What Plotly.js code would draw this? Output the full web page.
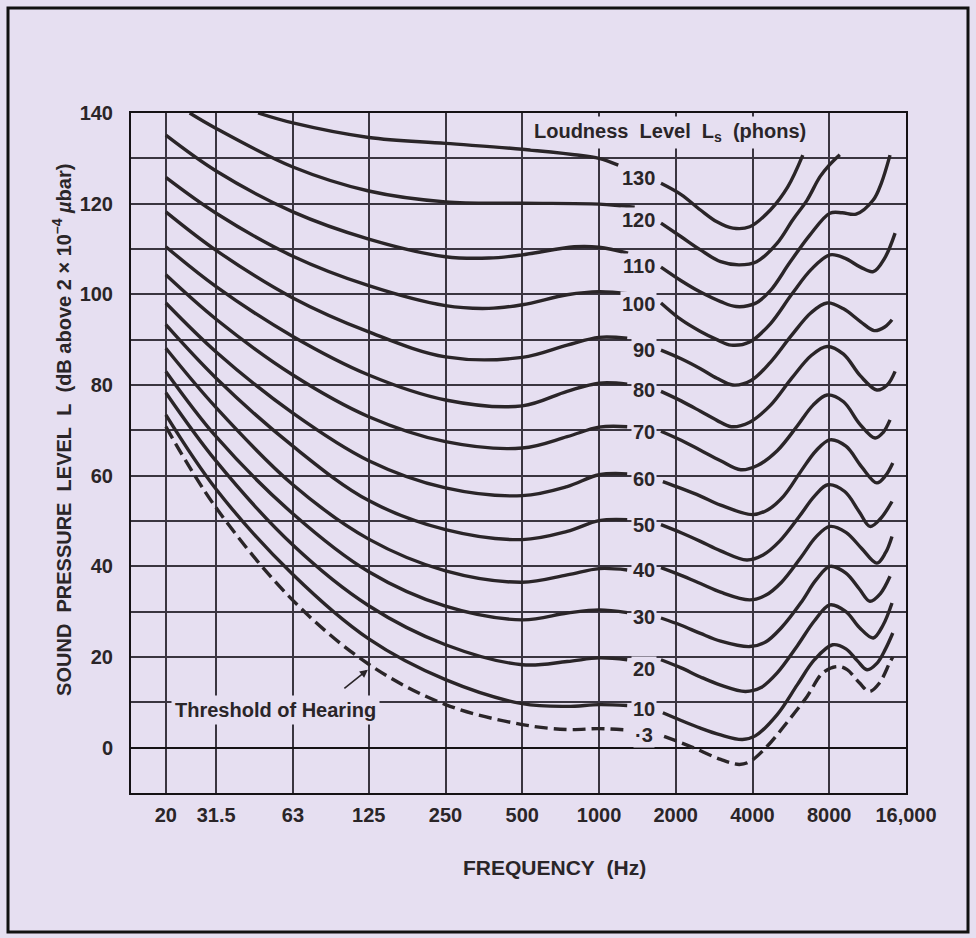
<!DOCTYPE html>
<html><head><meta charset="utf-8">
<script src="https://cdn.plot.ly/plotly-3.0.1.min.js"></script>
<style>html,body{margin:0;padding:0;background:#e6dff1;} #chart{width:976px;height:938px;}</style>
</head><body><div id="chart"></div>
<script>
// ---- axes ----
const freqTicks = [20, 31.5, 63, 125, 250, 500, 1000, 2000, 4000, 8000, 16000];
const freqTickText = ['20', '31.5', '63', '125', '250', '500', '1000', '2000', '4000', '8000', '16,000'];
const levelTicks = [-10, 0, 10, 20, 30, 40, 50, 60, 70, 80, 90, 100, 110, 120, 130, 140];
const levelTickText = ['', '0', '', '20', '', '40', '', '60', '', '80', '', '100', '', '120', '', '140'];

// ---- contour labels (phons) ----
const phonNames = ['130', '120', '110', '100', '90', '80', '70', '60', '50', '40', '30', '20', '10', '\u00b73'];

// ---- left branches (below ~1.3 kHz) ----
const fLow = [20, 31.5, 63, 125, 250, 500, 750, 1000, 1290];
const f130a = [46, 63, 125, 250, 500, 800, 1000, 1190];
const L130a = [140, 137.8, 134.6, 133.3, 132.0, 130.8, 130.0, 128.5];
const f120a = [24.8, 31.5, 63, 125, 250, 500, 1000, 1380];
const L120a = [140, 136.6, 128.1, 122.8, 120.4, 120.1, 119.9, 119.2];
const f110a = [20, 31.5, 63, 125, 250, 370, 500, 800, 1000, 1300];
const L110a = [135.1, 127.2, 118.2, 112.2, 108.3, 108.0, 108.7, 110.5, 110.4, 109.1];
const f100a = [20, 31.5, 63, 125, 250, 370, 500, 750, 1000, 1320];
const L100a = [125.8, 117.9, 108.4, 101.9, 97.5, 96.9, 97.7, 99.9, 100.6, 100.1];
const L90a = [118.2, 109.7, 99.2, 91.7, 86.2, 86.1, 88.8, 90.5, 90.3];
const L80a = [110.5, 101.7, 90.7, 82.2, 76.7, 75.4, 78.6, 80.4, 80.2];
const L70a = [104.3, 94.5, 82.2, 73.0, 67.5, 66.1, 68.6, 70.7, 70.8];
const L60a = [98.1, 87.3, 73.8, 63.3, 57.3, 55.6, 57.6, 60.2, 60.4];
const L50a = [93.3, 81.5, 66.5, 54.5, 48.1, 45.9, 47.7, 50.1, 50.3];
const L40a = [88.1, 75.0, 58.0, 46.0, 39.0, 36.5, 38.1, 39.5, 39.2];
const L30a = [83.0, 68.6, 51.6, 38.8, 31.2, 28.2, 29.7, 30.4, 29.8];
const L20a = [78.3, 63.2, 44.7, 31.3, 22.7, 18.3, 19.0, 19.8, 19.4];
const L10a = [73.4, 57.0, 38.2, 24.0, 15.0, 9.7, 9.1, 9.5, 9.3];
const L3a  = [70.8, 52.9, 32.5, 18.4, 9.5, 5.1, 4.0, 4.2, 3.9];

// ---- right branches (above ~1.7 kHz) ----
const f130b = [1750, 2100, 2500, 2900, 3350, 3900, 4700, 5500, 6300];
const L130b = [124.5, 122.0, 118.6, 116.0, 114.6, 114.9, 118.6, 123.7, 130.7];
const f120b = [1750, 2100, 2500, 3000, 3550, 4150, 5000, 5750, 6550, 7350, 8000, 8800];
const L120b = [115.7, 112.7, 109.8, 107.2, 106.5, 107.2, 111.3, 116.4, 120.8, 125.9, 128.5, 130.8];
const f110b = [1750, 2100, 2500, 3000, 3450, 4100, 4700, 5600, 6700, 8050, 9000, 10200, 11900, 12800, 13850];
const L110b = [106.0, 103.0, 100.5, 98.4, 97.3, 98.0, 100.8, 107.0, 113.0, 117.9, 118.0, 117.7, 120.8, 124.5, 130.7];
const f100b = [1750, 2100, 2500, 2900, 3300, 3900, 4700, 5700, 6800, 8050, 9200, 10600, 11900, 13200, 14500];
const L100b = [98.1, 94.4, 91.8, 90.0, 88.8, 89.5, 93.5, 100.0, 105.5, 108.7, 108.0, 106.0, 105.0, 108.0, 113.5];
const f90b = [1750, 2100, 2500, 2900, 3350, 3950, 4700, 5700, 6800, 7850, 9100, 10600, 12000, 13200, 14100];
const L90b = [87.7, 85.8, 83.6, 81.5, 80.0, 81.0, 85.0, 91.0, 96.0, 98.1, 96.8, 94.0, 92.0, 92.8, 94.4];
const f80b = [1750, 2100, 2500, 2900, 3300, 3900, 4700, 5700, 6800, 7850, 9100, 10600, 12300, 13500, 14500];
const L80b = [78.6, 76.5, 74.2, 72.2, 70.8, 71.8, 75.5, 81.5, 86.5, 88.5, 86.8, 82.0, 78.9, 80.0, 83.0];
const f70b = [1750, 2100, 2500, 3000, 3600, 4200, 5000, 6000, 6900, 7850, 9100, 10500, 12100, 13000, 13850];
const L70b = [69.8, 67.8, 65.6, 63.3, 61.3, 62.3, 65.5, 71.0, 75.5, 77.8, 76.3, 71.5, 68.3, 69.5, 72.3];
const f60b = [1780, 2100, 2500, 3000, 4000, 4600, 5300, 6200, 7100, 8050, 9300, 10700, 12300, 13300, 14200];
const L60b = [58.7, 57.2, 55.5, 53.5, 51.4, 52.5, 55.5, 61.0, 65.5, 67.9, 66.5, 62.0, 58.4, 60.0, 62.8];
const f50b = [1750, 2100, 2500, 3000, 3800, 4400, 5100, 6100, 7000, 7900, 9200, 10500, 11550, 12700, 14100];
const L50b = [49.2, 47.4, 45.5, 43.4, 41.4, 42.5, 45.5, 51.0, 55.5, 58.0, 56.5, 52.0, 48.8, 50.5, 54.3];
const f40b = [1750, 2100, 2500, 3000, 3900, 4500, 5200, 6200, 7100, 8050, 9300, 10700, 12300, 13300, 14100];
const L40b = [39.7, 38.0, 36.2, 34.3, 32.6, 33.6, 36.5, 42.0, 46.5, 48.8, 47.5, 44.0, 40.7, 43.0, 46.6];
const f30b = [1750, 2100, 2500, 3000, 3900, 4500, 5200, 6200, 7100, 8050, 9300, 10500, 11550, 12700, 13850];
const L30b = [28.6, 27.0, 25.2, 23.5, 22.3, 23.3, 26.5, 32.0, 37.0, 40.0, 38.5, 35.0, 32.3, 34.0, 37.8];
const f20b = [1750, 2100, 2500, 3000, 3750, 4300, 5000, 6000, 7000, 8050, 9300, 10500, 11900, 13000, 14100];
const L20b = [19.4, 17.6, 15.6, 13.8, 12.4, 13.2, 16.5, 22.5, 28.0, 31.5, 30.0, 26.5, 24.2, 27.0, 31.9];
const f10b = [1780, 2100, 2500, 3000, 3650, 4100, 5000, 6000, 7000, 8250, 9300, 10300, 11250, 12300, 13300, 14200];
const L10b = [7.7, 6.0, 4.3, 2.8, 1.8, 2.6, 7.3, 13.9, 19.4, 22.7, 21.8, 19.2, 17.2, 18.6, 21.8, 25.3];
const f3b = [1800, 2300, 3000, 3550, 3900, 4550, 5450, 6550, 7550, 8600, 9400, 10500, 11500, 12600, 13800, 14200];
const L3b = [2.5, 0.2, -2.6, -3.7, -3.1, 0.2, 5.5, 11.3, 16.5, 17.9, 17.2, 14.3, 12.4, 14.3, 18.7, 20.0];

// label vertical positions (layout), in dB
const labelY = [125.7, 116.5, 106.3, 97.9, 87.8, 78.8, 69.6, 59.2, 49.1, 39.1, 28.8, 17.4, 8.5, 2.75];

const curves = [
  [f130a, L130a, f130b, L130b], [f120a, L120a, f120b, L120b], [f110a, L110a, f110b, L110b],
  [f100a, L100a, f100b, L100b], [fLow, L90a, f90b, L90b], [fLow, L80a, f80b, L80b],
  [fLow, L70a, f70b, L70b], [fLow, L60a, f60b, L60b], [fLow, L50a, f50b, L50b],
  [fLow, L40a, f40b, L40b], [fLow, L30a, f30b, L30b], [fLow, L20a, f20b, L20b],
  [fLow, L10a, f10b, L10b], [fLow, L3a, f3b, L3b]
];

const BG = '#e6dff1';
const INK = '#2a2528';
const FONT = 'Liberation Sans, Arial, sans-serif';

const traces = [];
curves.forEach((c, i) => {
  const dashed = i === curves.length - 1;
  const line = {color: INK, width: 3.4, shape: 'spline', smoothing: 1, dash: dashed ? '13px,6px' : 'solid'};
  traces.push({x: c[0], y: c[1], type: 'scatter', mode: 'lines', line: line, hoverinfo: 'skip'});
  traces.push({x: c[2], y: c[3], type: 'scatter', mode: 'lines', line: line, hoverinfo: 'skip'});
});

const annotations = phonNames.map((t, i) => ({
  x: Math.log10(t.length === 3 ? 1434 : 1508), y: labelY[i], xref: 'x', yref: 'y',
  xanchor: 'center', yanchor: 'middle',
  text: t, showarrow: false, bgcolor: BG, borderpad: 1,
  font: {family: FONT, size: 20, color: INK, weight: 'bold'}
}));

annotations.push({
  x: Math.log10(1898), y: 135.6, xref: 'x', yref: 'y', xanchor: 'center', yanchor: 'middle',
  showarrow: false, bgcolor: BG, borderpad: 3,
  text: 'Loudness\u00a0 Level\u00a0 L<sub>s</sub>\u00a0 (phons)',
  font: {family: FONT, size: 20, color: INK, weight: 'bold'}
});
annotations.push({
  x: Math.log10(54), y: 8.2, xref: 'x', yref: 'y', xanchor: 'center', yanchor: 'middle',
  showarrow: false, bgcolor: BG, borderpad: 3,
  text: 'Threshold of Hearing', font: {family: FONT, size: 20, color: INK, weight: 'bold'}
});
annotations.push({
  x: Math.log10(124), y: 17.2, xref: 'x', yref: 'y', text: '', showarrow: true,
  ax: -25, ay: 20, arrowhead: 2, arrowsize: 1, arrowwidth: 1.6, arrowcolor: INK
});
annotations.push({
  x: 0.547, y: -0.110, xref: 'paper', yref: 'paper', xanchor: 'center', yanchor: 'middle',
  showarrow: false,
  text: 'FREQUENCY\u00a0 (Hz)', font: {family: FONT, size: 21, color: INK, weight: 'bold'}
});
annotations.push({
  x: -0.089, y: 0.534, xref: 'paper', yref: 'paper', xanchor: 'center', yanchor: 'middle',
  showarrow: false, textangle: -90,
  text: 'SOUND\u00a0 PRESSURE\u00a0 LEVEL\u00a0 L\u00a0 (dB above 2 \u00d7 10<sup>\u20134</sup> <i>\u00b5</i>bar)',
  font: {family: FONT, size: 20, color: INK, weight: 'bold'}
});

const layout = {
  width: 976, height: 938,
  margin: {l: 131, r: 70, t: 113, b: 145},
  paper_bgcolor: BG, plot_bgcolor: BG,
  showlegend: false,
  hovermode: false,
  xaxis: {
    type: 'log', range: [Math.log10(14.6), Math.log10(16000)],
    tickvals: freqTicks, ticktext: freqTickText, ticks: '',
    showgrid: true, gridcolor: '#3a3540', gridwidth: 1.5,
    showline: true, mirror: true, linecolor: '#151215', linewidth: 2, zeroline: false,
    ticklabelstandoff: 3, fixedrange: true,
    tickfont: {family: FONT, size: 20, color: INK, weight: 'bold'}
  },
  yaxis: {
    range: [-10, 140], tickvals: levelTicks, ticktext: levelTickText, ticks: '',
    showgrid: true, gridcolor: '#3a3540', gridwidth: 1.5,
    showline: true, mirror: true, linecolor: '#151215', linewidth: 2,
    zeroline: true, zerolinecolor: '#151215', zerolinewidth: 2,
    ticklabelstandoff: 12, fixedrange: true,
    tickfont: {family: FONT, size: 20, color: INK, weight: 'bold'}
  },
  shapes: [{
    type: 'rect', xref: 'paper', yref: 'paper',
    x0: -0.1587, x1: 1.08, y0: -0.2044, y1: 1.1544,
    line: {color: '#111', width: 3}
  }],
  annotations: annotations
};

Plotly.newPlot('chart', traces, layout, {displayModeBar: false});
</script>
</body></html>
